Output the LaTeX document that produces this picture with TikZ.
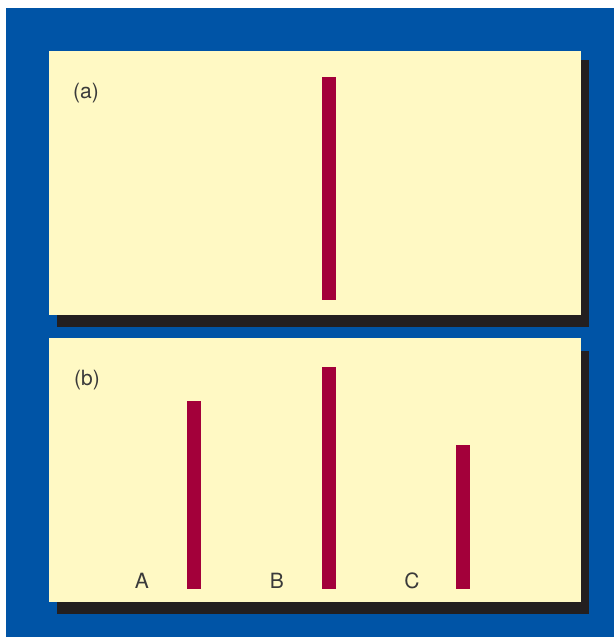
\documentclass[tikz,border=0pt]{standalone}
\usepackage{fontspec}
\setmainfont{TeX Gyre Heros}
\definecolor{frameblue}{HTML}{0054A6}
\definecolor{paper}{HTML}{FFF9C4}
\definecolor{barred}{HTML}{A3003A}
\definecolor{shade}{HTML}{231F20}
\definecolor{ink}{HTML}{3A3A3A}
\tikzset{
  panel/.style={fill=paper, draw=none},
  drop/.style={fill=shade, draw=none},
  peak/.style={fill=barred, draw=none},
  tag/.style={text=ink, font=\fontsize{21}{24}\selectfont, inner sep=0pt}
}
\begin{document}
\begin{tikzpicture}[x=1pt, y=-1pt]
        \useasboundingbox (0,0) rectangle (614,637);
        \fill[white] (0,0) rectangle (614,637);
        \fill[frameblue] (6,8) rectangle (614,637);

        % panel (a)
        \fill[drop] (57,60) rectangle (589,327);
        \fill[panel] (49,51) rectangle (581,315);
        \node[tag] (labela) at (86,93) {(a)};
        \fill[peak] (322,77) rectangle (336,300);

        % panel (b)
        \fill[drop] (57,351) rectangle (589,614);
        \fill[panel] (49,338) rectangle (581,602);
        \node[tag] (labelb) at (87,380) {(b)};
        \fill[peak] (187,401) rectangle (201,589);
        \fill[peak] (322,367) rectangle (336,589);
        \fill[peak] (456,445) rectangle (470,589);
        \node[tag] (pa) at (142,581) {A};
        \node[tag] (pb) at (277,581) {B};
        \node[tag] (pc) at (412,581) {C};
\end{tikzpicture}
\end{document}
